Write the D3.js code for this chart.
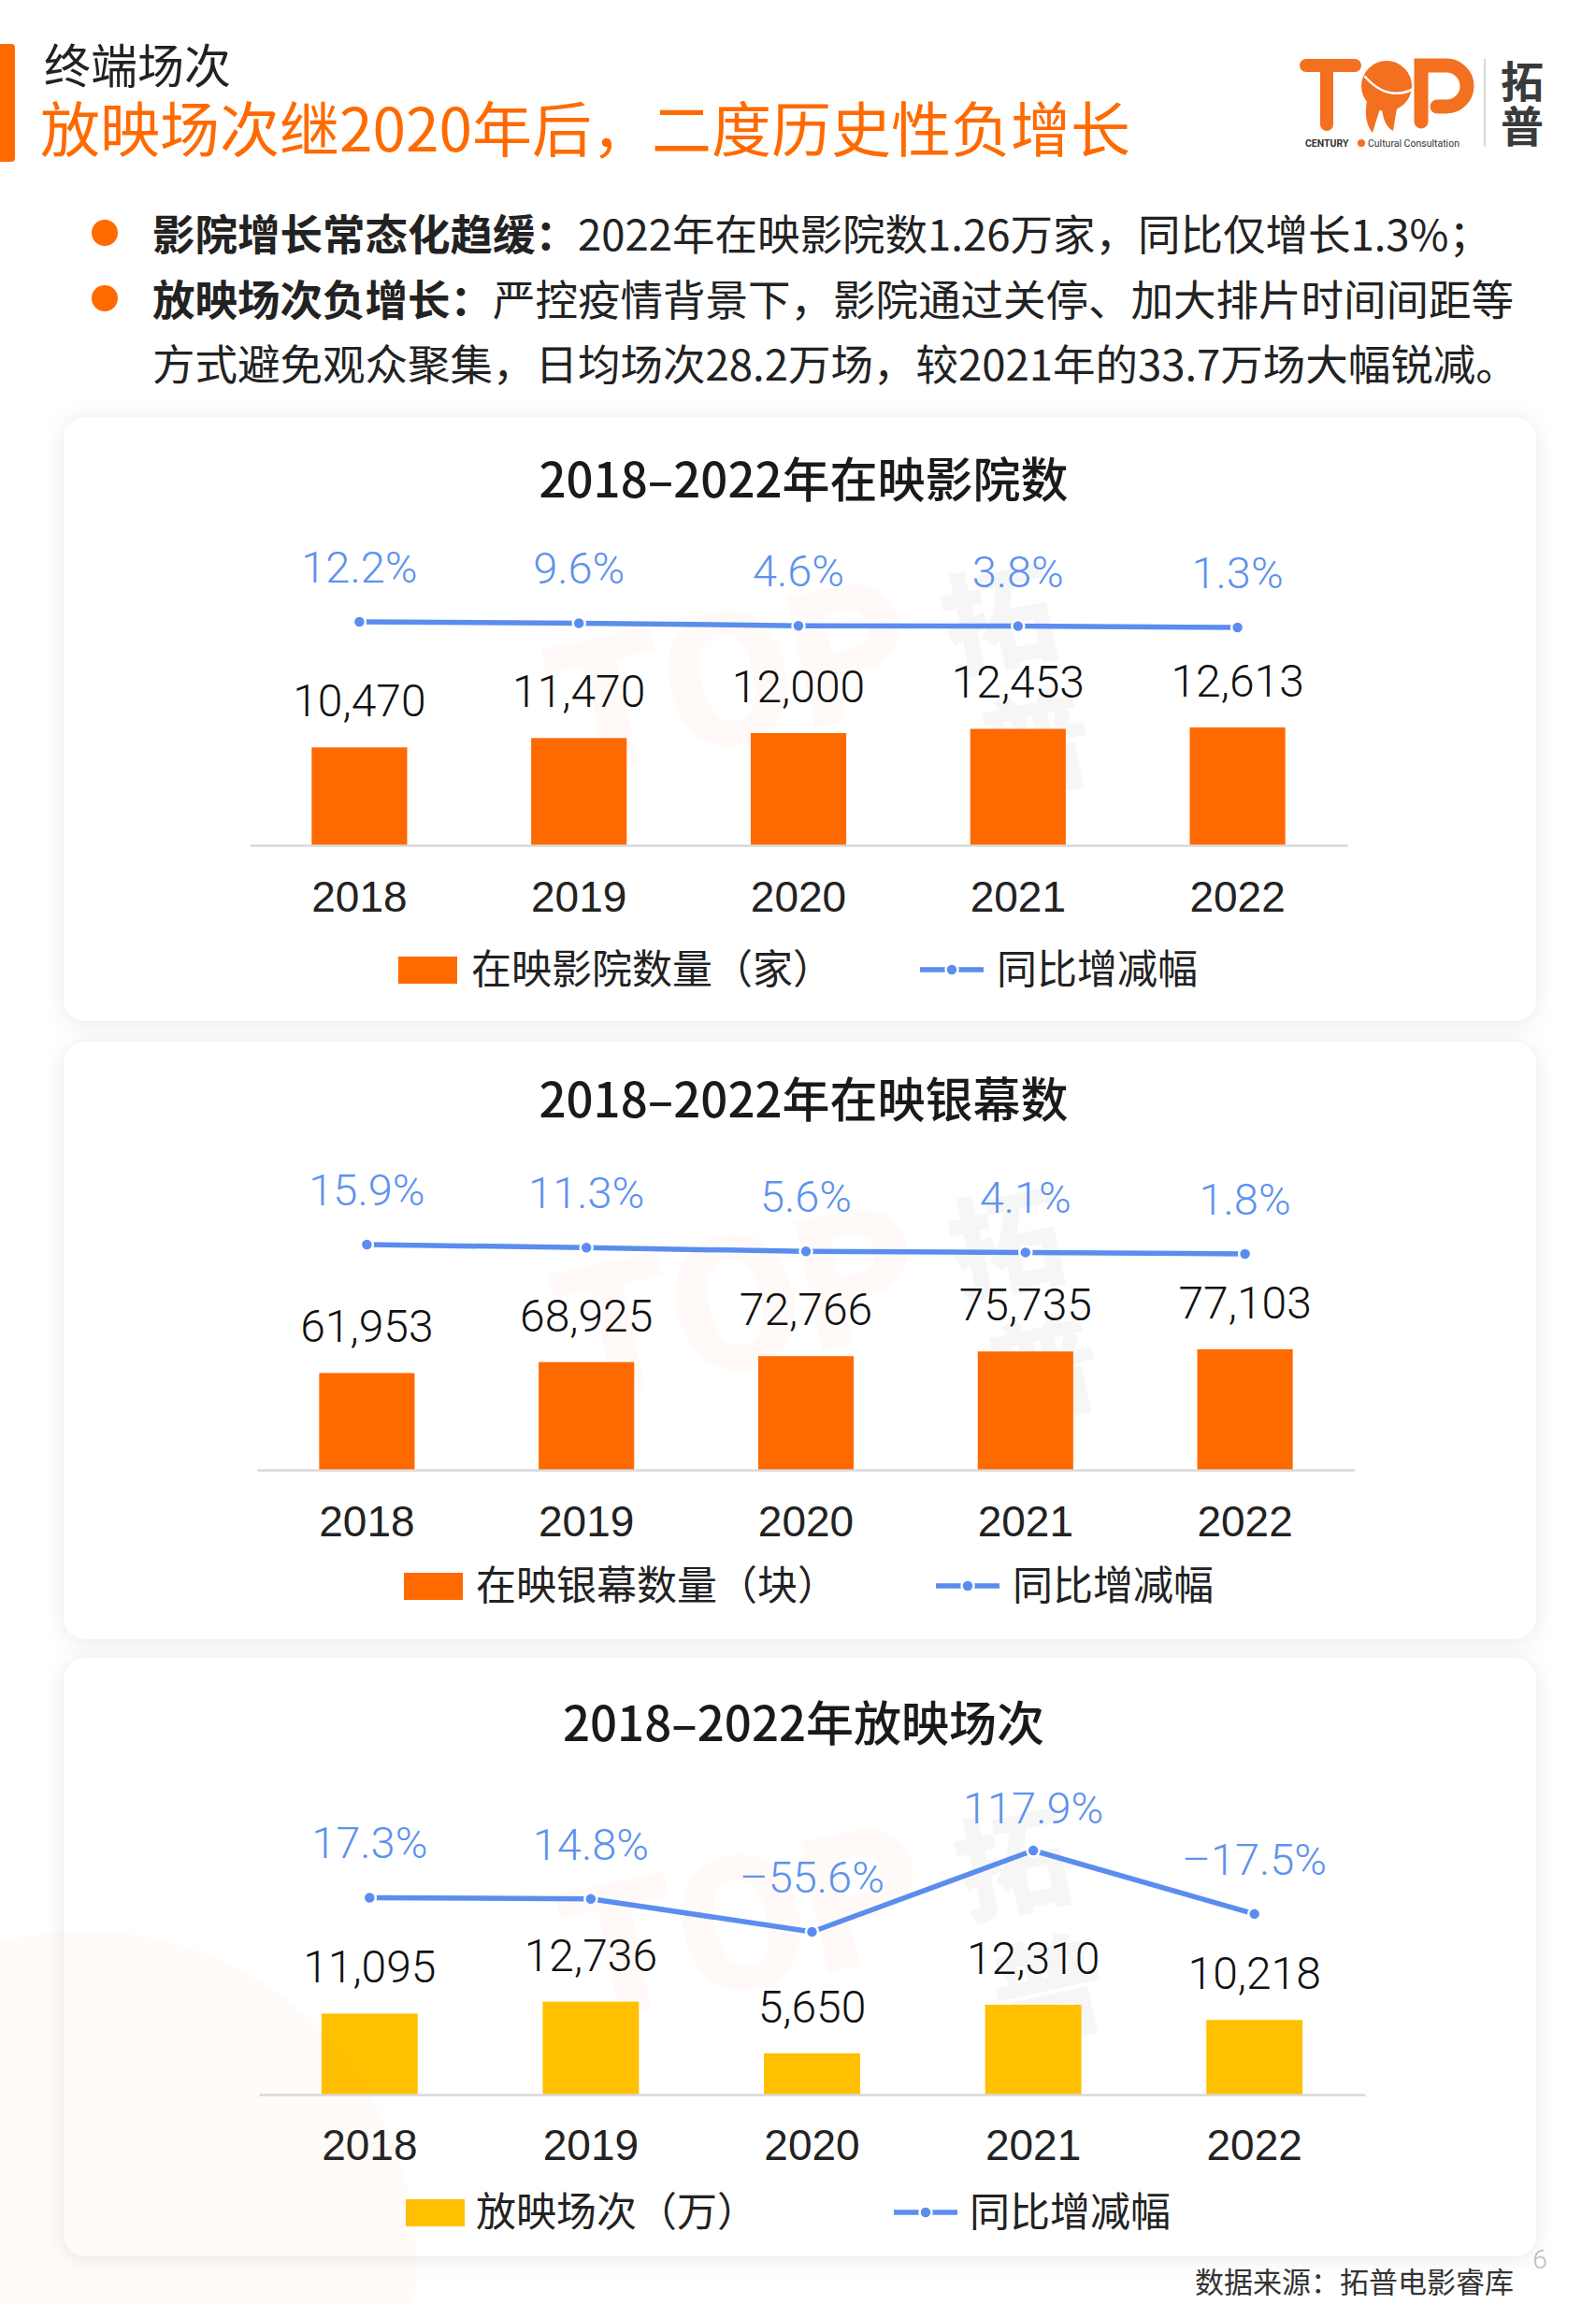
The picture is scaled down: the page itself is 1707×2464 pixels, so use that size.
<!DOCTYPE html>
<html><head><meta charset="utf-8">
<script src="https://cdn.jsdelivr.net/npm/d3@7"></script>
<style>html,body{margin:0;padding:0;background:#fff;} svg{display:block;}</style>
</head><body><svg id="c" width="1707" height="2464"></svg>
<script>
// ---------- data ----------
const years = ["2018", "2019", "2020", "2021", "2022"];
const cinemaCounts = [10470, 11470, 12000, 12453, 12613];
const cinemaGrowth = [12.2, 9.6, 4.6, 3.8, 1.3];
const screenCounts = [61953, 68925, 72766, 75735, 77103];
const screenGrowth = [15.9, 11.3, 5.6, 4.1, 1.8];
const showCounts = [11095, 12736, 5650, 12310, 10218];
const showGrowth = [17.3, 14.8, -55.6, 117.9, -17.5];
const panelTitles = ["2018–2022年在映影院数", "2018–2022年在映银幕数", "2018–2022年放映场次"];
const barLegends = ["在映影院数量（家）", "在映银幕数量（块）", "放映场次（万）"];
const lineLegend = "同比增减幅";
const sectionLabel = "终端场次";
const headline = "放映场次继2020年后，二度历史性负增长";
const bullets = [
  {bold: "影院增长常态化趋缓：", lines: ["2022年在映影院数1.26万家，同比仅增长1.3%；"]},
  {bold: "放映场次负增长：", lines: ["严控疫情背景下，影院通过关停、加大排片时间间距等", "方式避免观众聚集，日均场次28.2万场，较2021年的33.7万场大幅锐减。"]}
];
const sourceNote = "数据来源：拓普电影睿库";
const pageNo = "6";

// ---------- setup ----------
const svg = d3.select("#c");
const CJK = "'Noto Sans CJK SC','Noto Sans',sans-serif";
const NUM = "Roboto,'Noto Sans CJK SC',sans-serif";
const YEARF = "'Liberation Sans',Arial,sans-serif";
const LINE_C = "#5B8DEF", LABEL_C = "#5E92EE";

const defs = svg.append("defs");
const f = defs.append("filter").attr("id", "sh").attr("x", "-10%").attr("y", "-10%").attr("width", "120%").attr("height", "120%");
f.append("feDropShadow").attr("dx", 0).attr("dy", 2).attr("stdDeviation", 11)
  .attr("flood-color", "#000").attr("flood-opacity", 0.09);

// ---------- header ----------
svg.append("rect").attr("x", -6).attr("y", 47).attr("width", 22).attr("height", 126).attr("rx", 4).attr("fill", "#FF6A00");
const head = svg.append("text").attr("font-family", CJK);
head.append("tspan").attr("x", 47).attr("y", 89).attr("font-size", 50).attr("fill", "#222").text(sectionLabel);
head.append("tspan").attr("x", 43).attr("y", 162).attr("font-size", 64).attr("fill", "#FF6A00").text(headline);

// logo
const logo = svg.append("g").attr("fill", "none").attr("stroke", "#F37021").attr("stroke-linecap", "round");
logo.append("path").attr("d", "M1397,70 L1449,70 M1419,70 L1419,133").attr("stroke-width", 14);
logo.append("circle").attr("cx", 1483).attr("cy", 92).attr("r", 27).attr("fill", "#F37021").attr("stroke", "none");
logo.append("path").attr("d", "M1462,108 Q1458,130 1468,142 L1476,116 Z M1478,116 Q1480,135 1490,140 L1494,116 Z").attr("fill", "#F37021").attr("stroke", "none");
logo.append("path").attr("d", "M1460,82 Q1483,108 1510,96").attr("stroke", "#fff").attr("stroke-width", 2.5);
logo.append("path").attr("d", "M1520,130 L1520,70 L1547,70 A22,22 0 0 1 1547,114 L1537,114").attr("stroke-width", 15);
svg.append("text").attr("x", 1396).attr("y", 157).attr("font-family", "Roboto,sans-serif").attr("font-weight", 700)
  .attr("font-size", 10.5).attr("fill", "#333").text("CENTURY");
svg.append("circle").attr("cx", 1456).attr("cy", 153).attr("r", 4).attr("fill", "#F37021");
svg.append("text").attr("x", 1463).attr("y", 157).attr("font-family", "Roboto,sans-serif")
  .attr("font-size", 10.5).attr("fill", "#333").text("Cultural Consultation");
svg.append("line").attr("x1", 1588).attr("x2", 1588).attr("y1", 63).attr("y2", 157).attr("stroke", "#ccc").attr("stroke-width", 1.5);
const brand = svg.append("text").attr("text-anchor", "middle").attr("font-family", CJK)
  .attr("font-weight", 700).attr("font-size", 46).attr("fill", "#3a3a3a");
brand.append("tspan").attr("x", 1628).attr("y", 104).text("拓");
brand.append("tspan").attr("x", 1628).attr("y", 152).text("普");

// bullets
const bulletY = [268, 338];
bullets.forEach((b, i) => {
  const y0 = bulletY[i];
  svg.append("circle").attr("cx", 112).attr("cy", y0 - 19).attr("r", 14).attr("fill", "#FF6A00");
  b.lines.forEach((ln, j) => {
    const t = svg.append("text").attr("x", 163).attr("y", y0 + j * 69).attr("font-family", CJK)
      .attr("font-size", 45.5).attr("fill", "#222");
    if (j === 0) t.append("tspan").attr("font-weight", 700).text(b.bold);
    t.append("tspan").text(ln);
  });
});

// ---------- panels ----------
const panels = [
  {counts: cinemaCounts, growth: cinemaGrowth, title: panelTitles[0], legend: barLegends[0], color: "#FF6A00",
   box: [68, 446, 1643, 1092], titleY: 532, x0: 267, x1: 1441, base: 904, barDom: 10000, barPx: 100,
   lineZero: 671.7, linePx: 55, labelTop: -1e9, yearY: 975, legY: 1037, legSq: 426, legText: 504, legIcon: 984, legText2: 1066},
  {counts: screenCounts, growth: screenGrowth, title: panelTitles[1], legend: barLegends[1], color: "#FF6A00",
   box: [68, 1114, 1643, 1753], titleY: 1195, x0: 275, x1: 1449, base: 1572, barDom: 100000, barPx: 167.3,
   lineZero: 1342.3, linePx: 71, labelTop: -1e9, yearY: 1643, legY: 1696, legSq: 432, legText: 509, legIcon: 1001, legText2: 1083},
  {counts: showCounts, growth: showGrowth, title: panelTitles[2], legend: barLegends[2], color: "#FFC000",
   box: [68, 1773, 1643, 2413], titleY: 1862, x0: 277, x1: 1460, base: 2240, barDom: 10000, barPx: 78,
   lineZero: 2038.1, linePx: 50.14, labelTop: 1950, yearY: 2310, legY: 2366, legSq: 434, legText: 509, legIcon: 956, legText2: 1037}
];

panels.forEach((p, pi) => {
  const g = svg.append("g");
  const [bx0, by0, bx1, by1] = p.box;
  g.append("rect").attr("x", bx0).attr("y", by0).attr("width", bx1 - bx0).attr("height", by1 - by0)
    .attr("rx", 24).attr("fill", "#fff").attr("filter", "url(#sh)");

  // faint watermark
  const wx = (p.x0 + p.x1) / 2 + 230, wy = (by0 + p.base) / 2 + 60;
  const wm = g.append("text").attr("text-anchor", "middle").attr("font-family", CJK)
    .attr("font-weight", 900).attr("font-size", 120).attr("fill", "#000").attr("opacity", 0.03)
    .attr("transform", `rotate(-12,${wx},${wy})`);
  wm.append("tspan").attr("x", wx).attr("y", wy - 30).text("拓");
  wm.append("tspan").attr("x", wx + 10).attr("y", wy + 110).text("普");
  g.append("text").attr("x", wx - 300).attr("y", wy + 60).attr("text-anchor", "middle").attr("font-family", "Roboto,sans-serif")
    .attr("font-weight", 900).attr("font-size", 200).attr("fill", "#FF6A00").attr("opacity", 0.025)
    .attr("transform", `rotate(-12,${wx - 300},${wy})`).text("TOP");

  g.append("text").attr("x", (bx0 + bx1) / 2 + 4).attr("y", p.titleY).attr("text-anchor", "middle")
    .attr("font-family", CJK).attr("font-weight", 500).attr("font-size", 51).attr("fill", "#1a1a1a").text(p.title);

  const x = d3.scaleBand().domain(years).range([p.x0, p.x1]);
  const cx = d => x(d) + x.bandwidth() / 2;
  const bw = x.bandwidth() * 0.435;
  const yb = d3.scaleLinear().domain([0, p.barDom]).range([p.base, p.base - p.barPx]);
  const yl = d3.scaleLinear().domain([0, 100]).range([p.lineZero, p.lineZero - p.linePx]);
  const rows = years.map((yr, i) => ({yr, v: p.counts[i], g: p.growth[i]}));

  // bars
  g.selectAll(".bar").data(rows).enter().append("rect")
    .attr("x", d => cx(d.yr) - bw / 2).attr("width", bw)
    .attr("y", d => yb(d.v)).attr("height", d => yb(0) - yb(d.v)).attr("fill", p.color);
  g.selectAll(".bl").data(rows).enter().append("text")
    .attr("x", d => cx(d.yr)).attr("y", d => yb(d.v) - 33).attr("text-anchor", "middle")
    .attr("font-family", NUM).attr("font-weight", 300).attr("font-size", 48).attr("fill", "#111")
    .text(d => d3.format(",")(d.v));

  // axis
  const axis = g.append("g").attr("transform", `translate(0,${p.base})`)
    .call(d3.axisBottom(x).tickSize(0).tickPadding(0));
  axis.select(".domain").attr("stroke", "#d9d9d9").attr("stroke-width", 2.5);
  axis.selectAll(".tick text").attr("y", p.yearY - p.base).attr("dy", 0)
    .attr("font-family", YEARF).attr("font-weight", 400).attr("font-size", 46).attr("fill", "#222");

  // line
  const line = d3.line().x(d => cx(d.yr)).y(d => yl(d.g));
  g.append("path").datum(rows).attr("d", line).attr("fill", "none").attr("stroke", LINE_C)
    .attr("stroke-width", 5.5).attr("stroke-linejoin", "round");
  g.selectAll(".pt").data(rows).enter().append("circle")
    .attr("cx", d => cx(d.yr)).attr("cy", d => yl(d.g)).attr("r", 6.5)
    .attr("fill", LINE_C).attr("stroke", "#fff").attr("stroke-width", 2.5);
  g.selectAll(".pl").data(rows).enter().append("text")
    .attr("x", d => cx(d.yr)).attr("y", d => Math.max(yl(d.g) - 42, p.labelTop)).attr("text-anchor", "middle")
    .attr("font-family", NUM).attr("font-weight", 300).attr("font-size", 47).attr("fill", LABEL_C)
    .text(d => (d.g < 0 ? "–" + Math.abs(d.g).toFixed(1) : d.g.toFixed(1)) + "%");

  // legend
  g.append("rect").attr("x", p.legSq).attr("y", p.legY - 14).attr("width", 63).attr("height", 29).attr("fill", p.color);
  g.append("text").attr("x", p.legText).attr("y", p.legY + 15).attr("font-family", CJK).attr("font-size", 43)
    .attr("fill", "#222").text(p.legend);
  g.append("line").attr("x1", p.legIcon).attr("x2", p.legIcon + 68).attr("y1", p.legY).attr("y2", p.legY)
    .attr("stroke", LINE_C).attr("stroke-width", 5.5);
  g.append("circle").attr("cx", p.legIcon + 34).attr("cy", p.legY).attr("r", 6.5)
    .attr("fill", LINE_C).attr("stroke", "#fff").attr("stroke-width", 2.5);
  g.append("text").attr("x", p.legText2).attr("y", p.legY + 15).attr("font-family", CJK).attr("font-size", 43)
    .attr("fill", "#222").text(lineLegend);
});

// faint decorative circle bottom-left
svg.append("circle").attr("cx", 90).attr("cy", 2420).attr("r", 355).attr("fill", "#FF7A1A").attr("opacity", 0.03);

// footer
svg.append("text").attr("x", 1619).attr("y", 2452).attr("text-anchor", "end").attr("font-family", CJK)
  .attr("font-size", 31).attr("fill", "#333").text(sourceNote);
svg.append("text").attr("x", 1647).attr("y", 2426).attr("text-anchor", "middle").attr("font-family", NUM)
  .attr("font-weight", 300).attr("font-size", 28).attr("fill", "#bbb").text(pageNo);
</script></body></html>
